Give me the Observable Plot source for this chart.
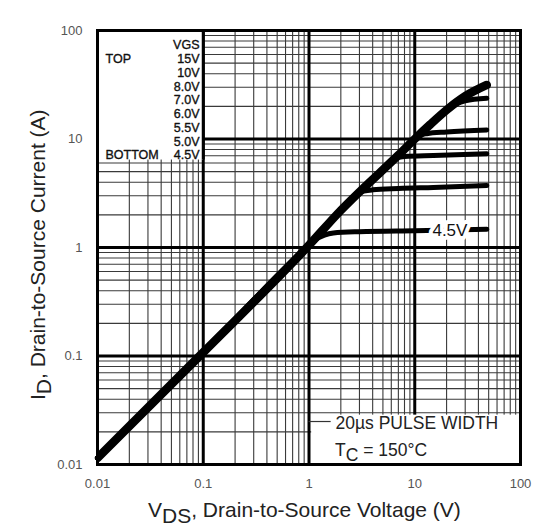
<!DOCTYPE html>
<html><head><meta charset="utf-8">
<script src="https://cdn.jsdelivr.net/npm/d3@7"></script>
<script src="https://cdn.jsdelivr.net/npm/@observablehq/plot@0.6"></script>
<style>body{margin:0;background:#fff} svg{display:block}</style>
</head><body><div id="chart"></div>
<script>
// ---- data ----
const vgsLabels = ["15V","10V","8.0V","7.0V","6.0V","5.5V","5.0V","4.5V"];
const decades = [0.01, 0.1, 1, 10, 100];
const xTickLabels = ["0.01","0.1","1","10","100"];
const yTickLabels = ["0.01","0.1","1","10","100"];
const minorSteps = [2,3,4,5,6,7,8,9];

// VDS (V) and ID (A), per VGS curve
const v15 = [0.01,0.1,1,2,3,5,7,10,14,20,30,48];
const i15 = [0.0115,0.108,1.05,2.2,3.25,5.2,7.1,10,13.6,18.5,24.8,31.5];
const v10 = [0.01,0.1,1,2,3,5,7,10,14,20,30,48];
const i10 = [0.0115,0.108,1.05,2.2,3.25,5.2,7.1,10,13.6,18.5,24.7,31.2];
const v8 = [0.01,0.1,1,2,3,5,7,10,14,20,30,48];
const i8 = [0.0115,0.108,1.05,2.2,3.25,5.2,7.1,10,13.6,18.5,24.6,31];
const v7 = [0.01,0.1,1,2,3,5,7,10,14,20,25,30,48];
const i7 = [0.0115,0.108,1.05,2.2,3.25,5.2,7.1,10,13.6,18.5,21.2,22.5,23.7];
const v6 = [0.01,0.1,1,2,3,5,7,9,10.5,13,20,48];
const i6 = [0.0115,0.108,1.05,2.2,3.25,5.2,7.1,9.1,10.6,11.2,11.6,12.1];
const v55 = [0.01,0.1,1,2,3,5,6.3,8,15,48];
const i55 = [0.0115,0.108,1.05,2.2,3.25,5.2,6.6,6.9,7.05,7.3];
const v5 = [0.01,0.1,1,2,2.5,2.9,4,7,15,48];
const i5 = [0.0115,0.108,1.05,2.2,2.75,3.2,3.4,3.5,3.58,3.72];
const v45 = [0.01,0.1,1,1.15,1.4,1.7,3,10,48];
const i45 = [0.0115,0.108,1.05,1.18,1.3,1.36,1.4,1.43,1.47];

const curves = [
  {vgs:"15V", v:v15, i:i15},
  {vgs:"10V", v:v10, i:i10},
  {vgs:"8.0V", v:v8, i:i8},
  {vgs:"7.0V", v:v7, i:i7},
  {vgs:"6.0V", v:v6, i:i6},
  {vgs:"5.5V", v:v55, i:i55},
  {vgs:"5.0V", v:v5, i:i5},
  {vgs:"4.5V", v:v45, i:i45}
];
const rows = curves.flatMap(c => c.v.map((v,k) => ({vgs:c.vgs, vds:v, id:c.i[k]})));
const minor = decades.slice(0,4).flatMap(d => minorSteps.map(k => d*k));

const font = "'Liberation Sans', Arial, Helvetica, sans-serif";
const legendStyle = {fontSize:12.5, fill:"#111", stroke:"#111", strokeWidth:0.35};

const legendMarks = vgsLabels.map((t,k) =>
  Plot.text([t], {frameAnchor:"top-left", dx:102, dy:24 + k*13.7, textAnchor:"end", ...legendStyle}));

const chart = Plot.plot({
  width: 553, height: 531,
  marginLeft: 97, marginRight: 33, marginTop: 30, marginBottom: 67,
  style: {fontFamily: font, background: "#fff"},
  x: {type:"log", domain:[0.01,100], label:null, axis:null},
  y: {type:"log", domain:[0.01,100], label:null, axis:null},
  marks: [
    Plot.ruleX(minor, {stroke:"#3a3a3a", strokeWidth:1.1}),
    Plot.ruleY(minor, {stroke:"#3a3a3a", strokeWidth:1.1}),
    Plot.ruleX(decades, {stroke:"#000", strokeWidth:3}),
    Plot.ruleY(decades, {stroke:"#000", strokeWidth:3}),
    Plot.rect([0], {x1:0.01, x2:0.1, y1:6.4, y2:100, fill:"#fff"}),
    Plot.rect([0], {x1:1.06, x2:100, y1:0.01, y2:0.0285, fill:"#fff"}),
    Plot.ruleX([0.1], {y1:6.4, y2:100, stroke:"#000", strokeWidth:3}),
    Plot.ruleY([0.0249], {x1:1.0, x2:1.62, stroke:"#333", strokeWidth:1.2}),
    Plot.line(rows.filter(r => r.vgs !== "15V"), {x:"vds", y:"id", z:"vgs", stroke:"#000", strokeWidth:5, curve:"monotone-x"}),
    Plot.line(rows.filter(r => r.vgs === "15V"), {x:"vds", y:"id", stroke:"#000", strokeWidth:8.5, curve:"monotone-x", clip:true}),
    Plot.text(["4.5V"], {x:21.5, y:1.44, fontSize:17, fill:"#111", stroke:"#fff", strokeWidth:8, paintOrder:"stroke"}),
    Plot.text(["VGS"], {frameAnchor:"top-left", dx:102, dy:10, textAnchor:"end", ...legendStyle}),
    Plot.text(["TOP"], {frameAnchor:"top-left", dx:8, dy:24, textAnchor:"start", ...legendStyle}),
    Plot.text(["BOTTOM"], {frameAnchor:"top-left", dx:8, dy:120, textAnchor:"start", ...legendStyle}),
    ...legendMarks,
    Plot.text(["20µs PULSE WIDTH"], {frameAnchor:"bottom-left", dx:238, dy:-36, textAnchor:"start", fontSize:17.5, fill:"#222"}),
    Plot.frame({stroke:"#000", strokeWidth:3}),
    Plot.axisX(decades, {tickSize:0, tickPadding:14, fontSize:13, fill:"#555",
      tickFormat: d => xTickLabels[decades.indexOf(d)]}),
    Plot.axisY(decades, {tickSize:0, tickPadding:15, fontSize:13, fill:"#555",
      tickFormat: d => yTickLabels[decades.indexOf(d)]})
  ]
});
document.getElementById("chart").appendChild(chart);

// titles with subscripts
const svg = d3.select(chart);
const xt = svg.append("text").attr("x", 148).attr("y", 517).attr("text-anchor", "start")
  .attr("font-family", font).attr("font-size", 21).attr("fill", "#222");
xt.append("tspan").text("V");
xt.append("tspan").attr("dy", 6).text("DS");
xt.append("tspan").attr("dy", -6).text(", Drain-to-Source Voltage (V)");

const yt = svg.append("text").attr("transform", "translate(45,400) rotate(-90)").attr("text-anchor", "start")
  .attr("font-family", font).attr("font-size", 21).attr("fill", "#222");
yt.append("tspan").text("I");
yt.append("tspan").attr("dy", 6).text("D");
yt.append("tspan").attr("dy", -6).text(", Drain-to-Source Current (A)");

const tc = svg.append("text").attr("x", 335).attr("y", 456).attr("text-anchor", "start")
  .attr("font-family", font).attr("font-size", 17.5).attr("fill", "#222");
tc.append("tspan").text("T");
tc.append("tspan").attr("dy", 5).text("C");
tc.append("tspan").attr("dy", -5).text(" = 150°C");
</script>
</body></html>
